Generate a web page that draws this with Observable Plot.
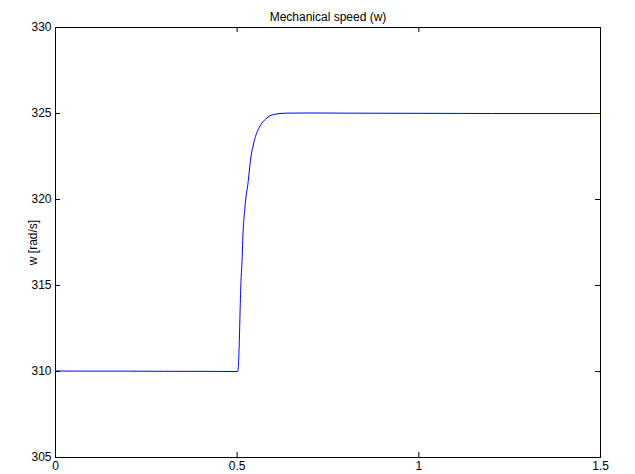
<!DOCTYPE html>
<html>
<head>
<meta charset="utf-8">
<script src="https://cdn.jsdelivr.net/npm/d3@7"></script>
<script src="https://cdn.jsdelivr.net/npm/@observablehq/plot@0.6"></script>
<style>
  html, body { margin: 0; padding: 0; background: #fff; }
  #chart svg { display: block; }
</style>
</head>
<body>
<div id="chart"></div>
<script>
const titleText = "Mechanical speed (w)";
const yLabel = "w [rad/s]";
const xTicks = [0, 0.5, 1, 1.5];
const yTicks = [305, 310, 315, 320, 325, 330];
const timeValues = [0, 0.1, 0.2, 0.3, 0.4, 0.5, 0.5015, 0.506, 0.508, 0.5106, 0.5134, 0.5153, 0.5216, 0.5307, 0.5362, 0.547, 0.561, 0.5794, 0.602, 0.634, 0.7, 0.8, 1.0, 1.2, 1.5];
const speedValues = [310.03, 310.02, 310.02, 310.01, 310.01, 310.0, 310.0, 311.8, 313.5, 315.3, 316.4, 317.6, 319.6, 321.1, 322.2, 323.4, 324.2, 324.7, 324.95, 325.02, 325.03, 325.02, 325.01, 325.0, 325.0];

const data = timeValues.map((t, i) => ({t, w: speedValues[i]}));

const W = 635, H = 474;
const mL = 55, mR = 35, mT = 27, mB = 17;
const innerW = W - mL - mR, innerH = H - mT - mB;
const tickLen = 5;

const chart = Plot.plot({
  width: W,
  height: H,
  marginLeft: mL,
  marginRight: mR,
  marginTop: mT,
  marginBottom: mB,
  style: {fontFamily: "'Liberation Sans', Arial, Helvetica, sans-serif", fontSize: "12px", color: "#000", background: "#fff", overflow: "visible"},
  x: {domain: [0, 1.5]},
  y: {domain: [305, 330]},
  marks: [
    Plot.axisX({ticks: xTicks, tickSize: 0, tickPadding: 4, label: null, tickFormat: d => String(d), fontSize: 12}),
    Plot.axisY({ticks: yTicks, tickSize: 0, tickPadding: 4, label: yLabel, labelAnchor: "center", labelArrow: "none", labelOffset: 27, tickFormat: d => String(d), fontSize: 12}),
    Plot.tickX(xTicks, {x: d => d, insetTop: innerH - tickLen, stroke: "#000"}),
    Plot.tickX(xTicks, {x: d => d, insetBottom: innerH - tickLen, stroke: "#000"}),
    Plot.tickY(yTicks, {y: d => d, insetRight: innerW - tickLen, stroke: "#000"}),
    Plot.tickY(yTicks, {y: d => d, insetLeft: innerW - tickLen, stroke: "#000"}),
    Plot.line(data, {x: "t", y: "w", stroke: "#0000ff", strokeWidth: 1, curve: "monotone-x"}),
    Plot.frame({stroke: "#000", strokeWidth: 1}),
    Plot.text([titleText], {frameAnchor: "top", dy: -15, text: d => d, fontSize: 12, fill: "#000"})
  ]
});
document.getElementById("chart").appendChild(chart);
</script>
</body>
</html>
